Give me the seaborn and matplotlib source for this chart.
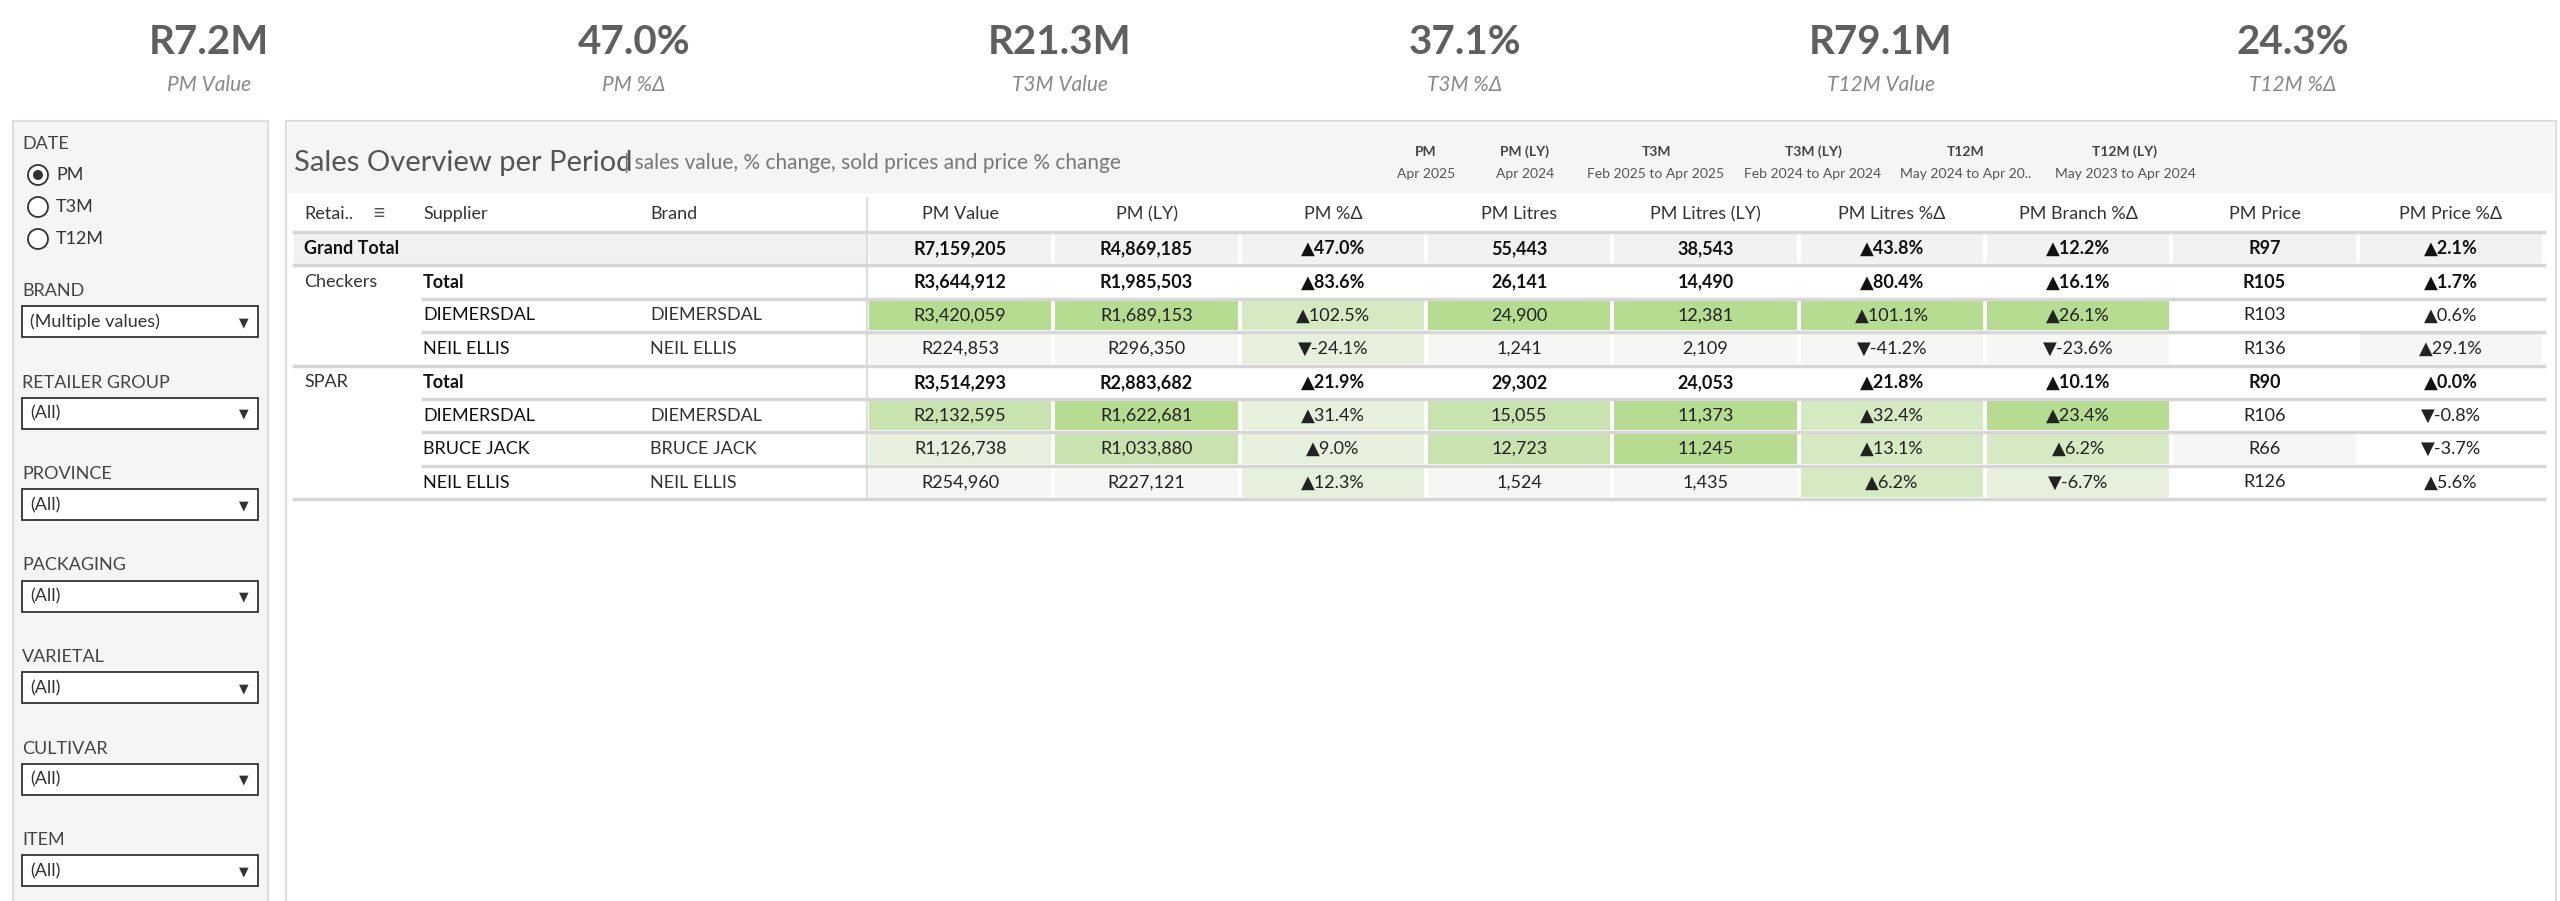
import numpy as np
import pandas as pd
import seaborn as sns
import matplotlib.pyplot as plt
from matplotlib.colors import ListedColormap
from matplotlib.patches import Rectangle, Circle

# ---- data ----
kpi_values = ["R7.2M", "47.0%", "R21.3M", "37.1%", "R79.1M", "24.3%"]
kpi_labels = ["PM Value", "PM %Δ", "T3M Value", "T3M %Δ", "T12M Value", "T12M %Δ"]

periods = ["PM", "PM (LY)", "T3M", "T3M (LY)", "T12M", "T12M (LY)"]
period_ranges = ["Apr 2025", "Apr 2024", "Feb 2025 to Apr 2025", "Feb 2024 to Apr 2024",
                 "May 2024 to Apr 20..", "May 2023 to Apr 2024"]

columns = ["PM Value", "PM (LY)", "PM %Δ", "PM Litres", "PM Litres (LY)",
           "PM Litres %Δ", "PM Branch %Δ", "PM Price", "PM Price %Δ"]
retailers = ["", "Checkers", "", "", "SPAR", "", "", ""]
suppliers = ["Grand Total", "Total", "DIEMERSDAL", "NEIL ELLIS", "Total", "DIEMERSDAL", "BRUCE JACK", "NEIL ELLIS"]
brands = ["", "", "DIEMERSDAL", "NEIL ELLIS", "", "DIEMERSDAL", "BRUCE JACK", "NEIL ELLIS"]
cells = [
    ["R7,159,205", "R4,869,185", "▲47.0%", "55,443", "38,543", "▲43.8%", "▲12.2%", "R97", "▲2.1%"],
    ["R3,644,912", "R1,985,503", "▲83.6%", "26,141", "14,490", "▲80.4%", "▲16.1%", "R105", "▲1.7%"],
    ["R3,420,059", "R1,689,153", "▲102.5%", "24,900", "12,381", "▲101.1%", "▲26.1%", "R103", "▲0.6%"],
    ["R224,853", "R296,350", "▼-24.1%", "1,241", "2,109", "▼-41.2%", "▼-23.6%", "R136", "▲29.1%"],
    ["R3,514,293", "R2,883,682", "▲21.9%", "29,302", "24,053", "▲21.8%", "▲10.1%", "R90", "▲0.0%"],
    ["R2,132,595", "R1,622,681", "▲31.4%", "15,055", "11,373", "▲32.4%", "▲23.4%", "R106", "▼-0.8%"],
    ["R1,126,738", "R1,033,880", "▲9.0%", "12,723", "11,245", "▲13.1%", "▲6.2%", "R66", "▼-3.7%"],
    ["R254,960", "R227,121", "▲12.3%", "1,524", "1,435", "▲6.2%", "▼-6.7%", "R126", "▲5.6%"],
]
# colour level of each cell (6 = grand total grey)
shade = [
    [6, 6, 6, 6, 6, 6, 6, 6, 6],
    [0, 0, 0, 0, 0, 0, 0, 0, 0],
    [5, 5, 3, 5, 5, 5, 5, 0, 0],
    [1, 1, 2, 1, 1, 1, 1, 0, 1],
    [0, 0, 0, 0, 0, 0, 0, 0, 0],
    [4, 5, 2, 4, 5, 3, 5, 0, 0],
    [2, 4, 2, 4, 5, 3, 3, 1, 0],
    [1, 1, 2, 1, 1, 3, 2, 0, 0],
]
bold_rows = [0, 1, 4]
filters = ["BRAND", "RETAILER GROUP", "PROVINCE", "PACKAGING", "VARIETAL", "CULTIVAR", "ITEM"]
filter_vals = ["(Multiple values)", "(All)", "(All)", "(All)", "(All)", "(All)", "(All)"]

W, H = 2560, 901
plt.rcParams['font.family'] = ['Lato', 'DejaVu Sans']
fig = plt.figure(figsize=(W / 100, H / 100), dpi=100)
fig.patch.set_facecolor("white")

ov = fig.add_axes([0, 0, 1, 1])
ov.set_xlim(0, W)
ov.set_ylim(H, 0)
ov.axis("off")
ov.set_zorder(0)

grey = "#555555"
# KPI header
kx = [209, 634, 1060, 1465, 1881, 2293]
for x, v, l in zip(kx, kpi_values, kpi_labels):
    ov.text(x, 42, v, ha="center", va="center", fontsize=29, weight="bold", color="#5f5f5f")
    ov.text(x, 85, l, ha="center", va="center", fontsize=15, style="italic", color="#888888")

# panels
ov.add_patch(Rectangle((13, 121), 255, 790, fc="#f5f5f5", ec="#dddddd", lw=1.5))
ov.add_patch(Rectangle((286, 121), 2270, 790, fc="white", ec="#dddddd", lw=1.5))
ov.add_patch(Rectangle((288, 123), 2266, 70, fc="#f5f5f5", ec="none"))

# filter panel
ov.text(22, 144, "DATE", fontsize=13, color="#444444", va="center")
for i, opt in enumerate(["PM", "T3M", "T12M"]):
    y = 175 + i * 32
    ov.add_patch(Circle((38, y), 10, fc="white", ec="#333333", lw=1.3))
    if i == 0:
        ov.add_patch(Circle((38, y), 5, fc="#333333", ec="none"))
    ov.text(56, y, opt, fontsize=13, color="#333333", va="center")
for i, (f, v) in enumerate(zip(filters, filter_vals)):
    y = 291 + i * 91.5
    ov.text(22, y, f, fontsize=13, color="#444444", va="center")
    ov.add_patch(Rectangle((22, y + 15), 236, 31, fc="white", ec="#333333", lw=1.3))
    ov.text(30, y + 31, v, fontsize=13, color="#333333", va="center")
    ov.text(244, y + 31, "▼", fontsize=9, color="#333333", va="center", ha="center")

# title band
ov.text(294, 163, "Sales Overview per Period", fontsize=21, color="#555555", va="center")
ov.text(624, 163, "| sales value, % change, sold prices and price % change", fontsize=15,
        color="#777777", va="center")
px = [1426, 1525, 1656, 1813, 1966, 2125]
for x, p, r in zip(px, periods, period_ranges):
    ov.text(x, 152, p, fontsize=10, weight="bold", color="#444444", ha="center", va="center")
    ov.text(x, 174, r, fontsize=10, color="#555555", ha="center", va="center")

# table geometry
x0, x1 = 867, 2544
y0, rh = 232, 33.4
cw = (x1 - x0) / len(columns)
ov.text(304, 214, "Retai..", fontsize=13, color="#333333", va="center")
ov.text(372, 214, "≡", fontsize=16, color="#555555", va="center")
ov.text(423, 214, "Supplier", fontsize=13, color="#333333", va="center")
ov.text(650, 214, "Brand", fontsize=13, color="#333333", va="center")
for j, c in enumerate(columns):
    ov.text(x0 + cw * (j + 0.5), 214, c, fontsize=13, color="#333333", ha="center", va="center")
ov.add_patch(Rectangle((294, y0), x0 - 294, rh, fc="#f2f2f2", ec="none"))
for i in range(len(suppliers)):
    yc = y0 + rh * (i + 0.5)
    w = "bold" if i in bold_rows else "normal"
    if retailers[i]:
        ov.text(304, yc, retailers[i], fontsize=13, color="#333333", va="center")
    ov.text(423 if i else 304, yc, suppliers[i], fontsize=13, weight=w, color="#111111", va="center")
    if brands[i]:
        ov.text(650, yc, brands[i], fontsize=13, color="#333333", va="center")

# heatmap cells
cmap = ListedColormap(["#ffffff", "#f6f6f4", "#e6f0dc", "#d5e9c3", "#c8e3b0", "#b5dc90", "#f2f2f2"])
hm = fig.add_axes([x0 / W, 1 - (y0 + rh * len(suppliers)) / H, (x1 - x0) / W, rh * len(suppliers) / H])
hm.set_zorder(1)
df = pd.DataFrame(shade, columns=columns)
sns.heatmap(df, ax=hm, cmap=cmap, vmin=-0.5, vmax=6.5, cbar=False, annot=np.array(cells), fmt="",
            linewidths=1.5, linecolor="white", annot_kws={"fontsize": 13, "color": "#222222"})
hm.set_xticks([])
hm.set_yticks([])
hm.set_xlabel("")
hm.set_ylabel("")
for k, t in enumerate(hm.texts):
    if k // len(columns) in bold_rows:
        t.set_weight("bold")
        t.set_color("#111111")

# row separators
top = fig.add_axes([0, 0, 1, 1])
top.set_xlim(0, W)
top.set_ylim(H, 0)
top.axis("off")
top.set_zorder(2)
top.plot([x0, x0], [198, y0 + rh * 8], color="#dddddd", lw=1.5)
for i in range(len(suppliers) + 1):
    y = y0 + rh * i
    start = 294 if i in (0, 1, 4, 8) else 423
    top.plot([start, x1], [y, y], color="#d6d6d6", lw=2.5)

fig.savefig("out.png", dpi=100)
